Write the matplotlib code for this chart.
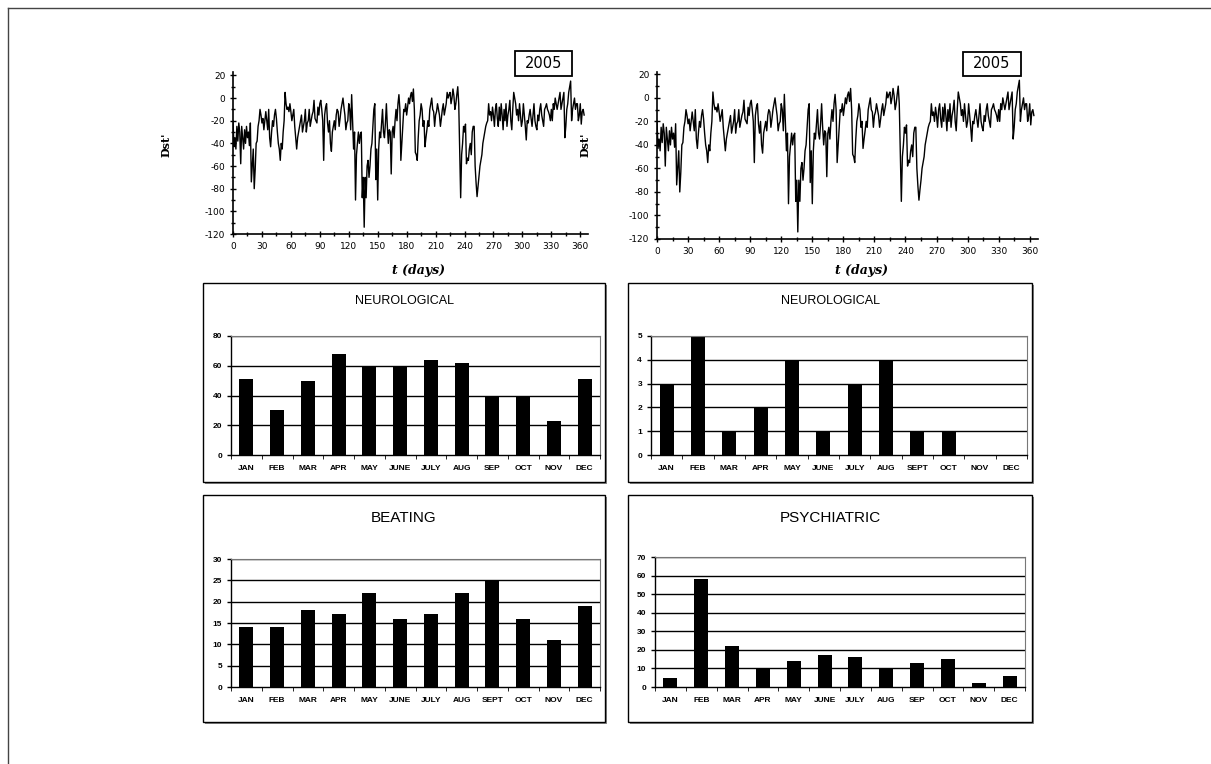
import numpy as np
import matplotlib.pyplot as plt
from matplotlib.patches import Rectangle
from matplotlib.lines import Line2D
from matplotlib.ticker import MultipleLocator

plt.rcParams['axes.unicode_minus'] = False

# daily Dst index for 2005 (nT), day 0 .. 364
dst_2005 = [
    -20, -43, -35, -45, -25, -38, -22, -30, -58, -25,
    -35, -45, -28, -40, -25, -35, -30, -42, -22, -74,
    -60, -45, -80, -63, -40, -38, -25, -20, -10, -15,
    -22, -18, -28, -20, -12, -20, -28, -10, -35, -43,
    -30, -20, -25, -15, -10, -18, -30, -40, -45, -55,
    -40, -45, -30, -20, 5, -5, -10, -8, -12, -5,
    -12, -20, -15, -10, -25, -35, -45, -35, -30, -25,
    -20, -15, -30, -25, -20, -10, -30, -22, -20, -10,
    -25, -20, -15, -12, -2, -18, -20, -22, -8, -15,
    -5, -2, -10, -20, -55, -15, -8, -5, -22, -30,
    -20, -40, -47, -30, -25, -20, -28, -15, -10, -12,
    -25, -18, -10, -5, 0, -8, -15, -28, -22, -20,
    -5, -10, -28, 3, -20, -45, -30, -90, -50, -40,
    -30, -40, -32, -30, -88, -70, -114, -70, -88, -60,
    -55, -70, -60, -45, -40, -25, -10, -5, -72, -45,
    -90, -45, -30, -35, -22, -10, -30, -35, -22, -5,
    -25, -40, -28, -30, -67, -30, -25, -35, -20, -10,
    -20, -5, 3, -10, -55, -40, -25, -10, -12, -5,
    -15, -8, 0, -5, 2, 5, -3, 8, -10, -48,
    -50, -55, -35, -20, -15, -5, -10, -25, -20, -43,
    -35, -28, -20, -25, -10, -5, 0, -10, -12, -25,
    -15, -12, -5, -10, -15, -25, -18, -10, -5, -15,
    -10, -5, 5, 0, 3, 5, -5, 0, 8, 2,
    -10, -5, 3, 10, -5, -45, -88, -50, -40, -25,
    -30, -23, -58, -53, -55, -45, -40, -50, -30, -25,
    -25, -60, -75, -87, -78, -70, -60, -55, -50, -40,
    -35, -30, -25, -22, -20, -5, -15, -12, -20, -8,
    -15, -25, -10, -5, -18, -25, -8, -20, -5, -15,
    -28, -10, -20, -5, -25, -15, -10, -2, -20, -28,
    -10, 5, 0, -5, -15, -10, -20, -5, -15, -25,
    -20, -5, -15, -25, -37, -20, -22, -15, -10, -18,
    -25, -15, -5, -20, -25, -28, -15, -20, -10, -5,
    -15, -20, -25, -10, -8, -5, -10, -12, -15, -20,
    -10, -20, -5, -10, 0, -5, -10, -5, 0, 5,
    -10, -5, 0, 5, -35, -25, -10, -5, 5, 10,
    15, -20, -10, -5, 0, -10, -5, -5, -20, -15,
    -5, -23, -12, -10, -15,
]
days = np.arange(len(dst_2005))

months_a = ['JAN', 'FEB', 'MAR', 'APR', 'MAY', 'JUNE', 'JULY', 'AUG', 'SEP', 'OCT', 'NOV', 'DEC']
months_b = ['JAN', 'FEB', 'MAR', 'APR', 'MAY', 'JUNE', 'JULY', 'AUG', 'SEPT', 'OCT', 'NOV', 'DEC']

neuro_a = [51, 30, 50, 68, 60, 60, 64, 62, 40, 40, 23, 51]
neuro_b = [3, 5, 1, 2, 4, 1, 3, 4, 1, 1, 0, 0]
beating = [14, 14, 18, 17, 22, 16, 17, 22, 25, 16, 11, 19]
psych = [5, 58, 22, 10, 14, 17, 16, 10, 13, 15, 2, 6]

W, H = 1211, 764
fig = plt.figure(figsize=(W / 100, H / 100), dpi=100)
fig.patch.set_facecolor('white')

def px(l, t, r, b):
    return [l / W, 1 - b / H, (r - l) / W, (b - t) / H]

# outer frame lines
fig.add_artist(Line2D([8 / W, 8 / W], [0, 1 - 8 / H], color='#444444', lw=1))
fig.add_artist(Line2D([8 / W, 1], [1 - 8 / H, 1 - 8 / H], color='#444444', lw=1))

def dst_panel(rect, xmax, ytop, lab_x, box, ylab_x):
    ax = fig.add_axes(px(*rect))
    ax.plot(days, dst_2005, color='black', lw=1.0)
    ax.set_xlim(0, xmax)
    ax.set_ylim(-120, ytop)
    ax.spines['top'].set_visible(False)
    ax.spines['right'].set_visible(False)
    ax.xaxis.set_major_locator(MultipleLocator(30))
    ax.xaxis.set_minor_locator(MultipleLocator(15))
    ax.yaxis.set_minor_locator(MultipleLocator(10))
    ax.set_yticks(np.arange(-120, 21, 20))
    ax.tick_params(which='both', direction='inout', labelsize=6.5, width=1)
    ax.tick_params(which='major', length=4)
    ax.tick_params(which='minor', length=2.5)
    for s in ax.spines.values():
        s.set_linewidth(1.2)
    fig.text(lab_x / W, 1 - 270 / H, 't (days)', ha='center', va='center',
             fontsize=9, fontweight='bold', fontstyle='italic', family='DejaVu Serif')
    fig.text(ylab_x / W, 1 - 145 / H, "Dst'", ha='center', va='center', rotation=90,
             fontsize=8, fontweight='bold', family='DejaVu Serif')
    l, t, r, b = box
    fig.add_artist(Rectangle((l / W, 1 - b / H), (r - l) / W, (b - t) / H,
                             transform=fig.transFigure, fill=False, ec='black', lw=1.3))
    fig.text((l + r) / 2 / W, 1 - (t + b) / 2 / H, '2005', ha='center', va='center',
             fontsize=10.5, family='DejaVu Sans')
    return ax

dst_panel((233, 72, 588, 234), 368, 23, 418, (515, 51, 572, 76), 166)
dst_panel((657, 72, 1038, 239), 368, 22, 862, (963, 52, 1021, 76), 585)

def bar_panel(box, rect, title, tsize, vals, labels, ymax, step):
    l, t, r, b = box
    # shadowed frame, kept under the axes
    fig.add_artist(Rectangle(((l + 2) / W, 1 - (b + 2) / H), (r - l) / W, (b - t) / H,
                             transform=fig.transFigure, fc='#888888', ec='none', zorder=-2))
    fig.add_artist(Rectangle((l / W, 1 - b / H), (r - l) / W, (b - t) / H,
                             transform=fig.transFigure, fc='white', ec='black', lw=1,
                             zorder=-1))
    fig.text((l + r) / 2 / W, 1 - (t + (18 if tsize < 10 else 23)) / H, title,
             ha='center', va='center', fontsize=tsize, family='Liberation Sans')
    ax = fig.add_axes(px(*rect))
    ax.patch.set_alpha(0)
    x = np.arange(len(vals))
    for v in np.arange(step, ymax + 0.01, step):
        ax.axhline(v, color='black', lw=1, zorder=1)
    ax.bar(x, vals, width=0.45, color='black', zorder=2)
    ax.set_xlim(-0.5, len(vals) - 0.5)
    ax.set_ylim(0, ymax)
    ax.set_yticks(np.arange(0, ymax + 0.01, step))
    ax.set_xticks(x)
    ax.set_xticklabels(labels)
    ax.set_xticks(np.arange(-0.5, len(vals), 1), minor=True)
    ax.tick_params(axis='x', which='major', length=0, pad=7)
    ax.tick_params(axis='x', which='minor', length=3, direction='out')
    ax.tick_params(axis='y', length=3, direction='out')
    ax.tick_params(labelsize=6, width=1)
    for lab in ax.get_xticklabels() + ax.get_yticklabels():
        lab.set_fontweight('bold')
        lab.set_family('Liberation Sans')
    ax.spines['left'].set_linewidth(1)
    ax.spines['bottom'].set_linewidth(1)
    for s in ('top', 'right'):
        ax.spines[s].set_color('#777777')
        ax.spines[s].set_linewidth(0.8)
    return ax

bar_panel((203, 283, 605, 482), (231, 336, 600, 455), 'NEUROLOGICAL', 9,
          neuro_a, months_a, 80, 20)
bar_panel((628, 283, 1032, 482), (651, 336, 1027, 455), 'NEUROLOGICAL', 9,
          neuro_b, months_b, 5, 1)
bar_panel((203, 495, 605, 722), (231, 559, 600, 687), 'BEATING', 11,
          beating, months_b, 30, 5)
bar_panel((628, 495, 1032, 722), (655, 557, 1025, 687), 'PSYCHIATRIC', 11,
          psych, months_a, 70, 10)

fig.savefig('out.png', dpi=100)
